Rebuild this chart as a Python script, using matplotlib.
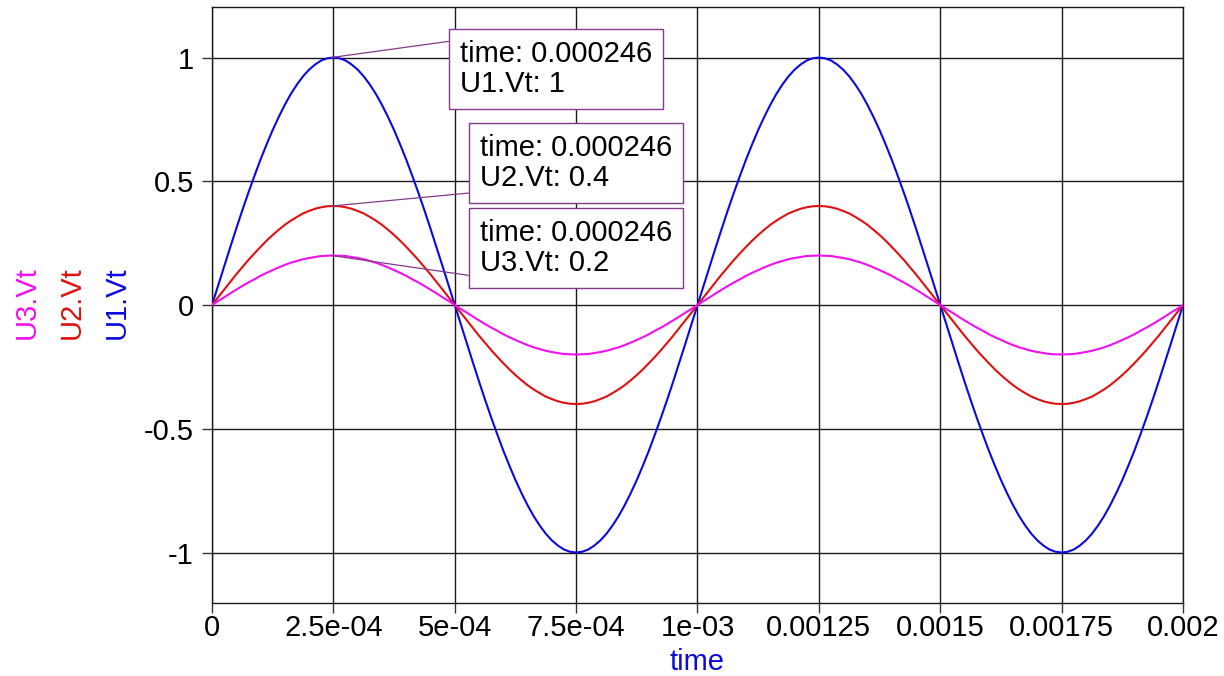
import numpy as np
import matplotlib.pyplot as plt

plt.rcParams['font.family'] = ['Liberation Sans', 'DejaVu Sans']

# one period (1 ms) of each trace, sampled every 12.5 us; the signal repeats twice
u1_period = [
    0.0, 0.078, 0.156, 0.233, 0.309, 0.383, 0.454, 0.522, 0.588, 0.649,
    0.707, 0.760, 0.809, 0.853, 0.891, 0.924, 0.951, 0.972, 0.988, 0.997,
    1.0, 0.997, 0.988, 0.972, 0.951, 0.924, 0.891, 0.853, 0.809, 0.760,
    0.707, 0.649, 0.588, 0.522, 0.454, 0.383, 0.309, 0.233, 0.156, 0.078,
    0.0, -0.078, -0.156, -0.233, -0.309, -0.383, -0.454, -0.522, -0.588, -0.649,
    -0.707, -0.760, -0.809, -0.853, -0.891, -0.924, -0.951, -0.972, -0.988, -0.997,
    -1.0, -0.997, -0.988, -0.972, -0.951, -0.924, -0.891, -0.853, -0.809, -0.760,
    -0.707, -0.649, -0.588, -0.522, -0.454, -0.383, -0.309, -0.233, -0.156, -0.078,
]
u2_period = [
    0.0, 0.031, 0.062, 0.093, 0.124, 0.153, 0.182, 0.209, 0.235, 0.260,
    0.283, 0.304, 0.324, 0.341, 0.356, 0.370, 0.380, 0.389, 0.395, 0.399,
    0.4, 0.399, 0.395, 0.389, 0.380, 0.370, 0.356, 0.341, 0.324, 0.304,
    0.283, 0.260, 0.235, 0.209, 0.182, 0.153, 0.124, 0.093, 0.062, 0.031,
    0.0, -0.031, -0.062, -0.093, -0.124, -0.153, -0.182, -0.209, -0.235, -0.260,
    -0.283, -0.304, -0.324, -0.341, -0.356, -0.370, -0.380, -0.389, -0.395, -0.399,
    -0.4, -0.399, -0.395, -0.389, -0.380, -0.370, -0.356, -0.341, -0.324, -0.304,
    -0.283, -0.260, -0.235, -0.209, -0.182, -0.153, -0.124, -0.093, -0.062, -0.031,
]
u3_period = [
    0.0, 0.016, 0.031, 0.047, 0.062, 0.077, 0.091, 0.104, 0.118, 0.130,
    0.141, 0.152, 0.162, 0.171, 0.178, 0.185, 0.190, 0.194, 0.198, 0.199,
    0.2, 0.199, 0.198, 0.194, 0.190, 0.185, 0.178, 0.171, 0.162, 0.152,
    0.141, 0.130, 0.118, 0.104, 0.091, 0.077, 0.062, 0.047, 0.031, 0.016,
    0.0, -0.016, -0.031, -0.047, -0.062, -0.077, -0.091, -0.104, -0.118, -0.130,
    -0.141, -0.152, -0.162, -0.171, -0.178, -0.185, -0.190, -0.194, -0.198, -0.199,
    -0.2, -0.199, -0.198, -0.194, -0.190, -0.185, -0.178, -0.171, -0.162, -0.152,
    -0.141, -0.130, -0.118, -0.104, -0.091, -0.077, -0.062, -0.047, -0.031, -0.016,
]
n_periods = 2

# cursor readout
marker_time = 0.000246
marker_names = ['U1.Vt', 'U2.Vt', 'U3.Vt']
marker_values = [1, 0.4, 0.2]

xticks = [0, 0.00025, 0.0005, 0.00075, 0.001, 0.00125, 0.0015, 0.00175, 0.002]
xtick_labels = ['0', '2.5e-04', '5e-04', '7.5e-04', '1e-03',
                '0.00125', '0.0015', '0.00175', '0.002']
yticks = [-1, -0.5, 0, 0.5, 1]
ytick_labels = ['-1', '-0.5', '0', '0.5', '1']

# two periods plus the closing sample at t = 2 ms
u1_vt = np.append(np.tile(u1_period, n_periods), u1_period[0])
u2_vt = np.append(np.tile(u2_period, n_periods), u2_period[0])
u3_vt = np.append(np.tile(u3_period, n_periods), u3_period[0])
time = np.linspace(0, 0.002, len(u1_vt))

blue = '#0a0ae0'
red = '#e01010'
magenta = '#f010f0'
purple = '#843a8a'
fs = 21

fig = plt.figure(figsize=(12.24, 6.76), dpi=100)
ax = fig.add_axes([0.1732, 0.108, 0.7933, 0.8816])

ax.plot(time, u1_vt, color=blue, lw=1.5, zorder=3)
ax.plot(time, u2_vt, color=red, lw=1.5, zorder=3)
ax.plot(time, u3_vt, color=magenta, lw=1.5, zorder=3)

ax.set_xlim(0, 0.002)
ax.set_ylim(-1.204, 1.204)
ax.set_xticks(xticks)
ax.set_xticklabels(xtick_labels)
ax.set_yticks(yticks)
ax.set_yticklabels(ytick_labels)
ax.tick_params(axis='both', labelsize=fs, length=7, width=1, color='#333333')
ax.tick_params(axis='x', pad=1)
ax.tick_params(axis='y', pad=6)
ax.grid(True, color='#1a1a1a', lw=1)
for sp in ax.spines.values():
    sp.set_color('#1a1a1a')
    sp.set_linewidth(1)

# axis titles, stacked on the left like the simulator shows them
fig.text(27, 373, 'U3.Vt', color=magenta, fontsize=fs, rotation=90,
         ha='center', va='center', transform=None)
fig.text(72, 373, 'U2.Vt', color=red, fontsize=fs, rotation=90,
         ha='center', va='center', transform=None)
fig.text(117, 373, 'U1.Vt', color=blue, fontsize=fs, rotation=90,
         ha='center', va='center', transform=None)
fig.text(697, 14, 'time', color=blue, fontsize=fs, ha='center', va='center',
         transform=None)

# cursor boxes (figure pixels, origin bottom-left) and the corner the leader joins
box_pos = [(460, 578), (480, 484), (480, 399)]
box_corner = [(0, 1), (0, 0), (0, 0)]
for name, val, pos, rel in zip(marker_names, marker_values, box_pos, box_corner):
    ax.annotate(f'time: {marker_time}\n{name}: {val}',
                xy=(marker_time, val), xycoords='data',
                xytext=pos, textcoords='figure pixels',
                ha='left', va='bottom', fontsize=fs, linespacing=1.1,
                bbox=dict(boxstyle='square,pad=0.38', fc='white', ec=purple, lw=1),
                arrowprops=dict(arrowstyle='-', color=purple, lw=0.9,
                                relpos=rel, shrinkA=0, shrinkB=0),
                zorder=5)

fig.savefig('out.png', dpi=100)
